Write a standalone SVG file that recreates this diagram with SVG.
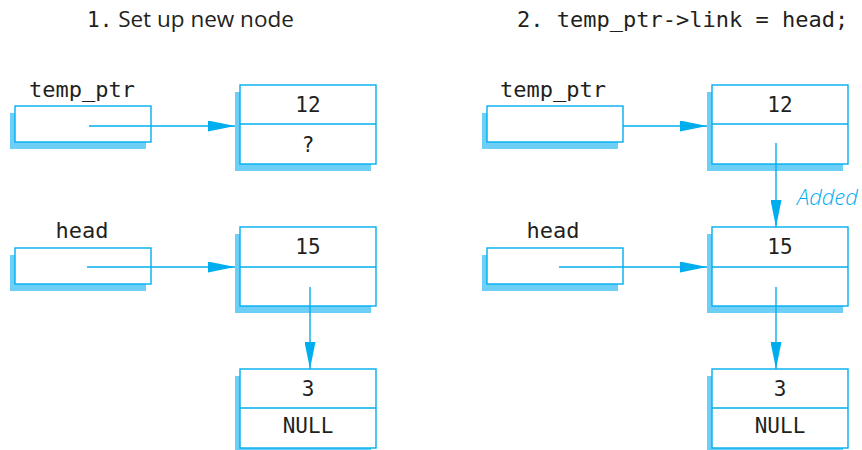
<svg xmlns="http://www.w3.org/2000/svg" width="862" height="450" viewBox="0 0 862 450">
<style>
.sh{fill:#6dcff6;stroke:none}
.bx{fill:#fff;stroke:#00aeef;stroke-width:1.4}
.dv{stroke:#00aeef;stroke-width:1.4}
.cn{stroke:#00aeef;stroke-width:1.4;fill:none;marker-end:url(#ah)}
.mono{font-family:"DejaVu Sans Mono","Liberation Mono",monospace;fill:#231f20}
.lbl{font-size:22px}
.val{font-size:21px;text-anchor:middle}
.sans{font-family:"Open Sans","Noto Sans",sans-serif;fill:#231f20}
.add{font-family:"Open Sans","Noto Sans",sans-serif;font-style:italic;font-weight:300;font-size:22px;fill:#00aeef}
</style>
<defs>
<marker id="ah" viewBox="0 0 27 11" refX="27" refY="5.5" markerWidth="27" markerHeight="11" markerUnits="userSpaceOnUse" orient="auto">
<path d="M0,0 L27,5.5 L0,11 Z" fill="#00aeef"/>
</marker>
</defs>
<g id="titles">
<text x="87" y="27" class="mono" font-size="21">1.<tspan class="sans" font-size="22.5"> Set up new node</tspan></text>
<text x="517" y="27" class="mono lbl">2. temp_ptr-&gt;link = head;</text>
</g>
<g id="L_temp_ptr">
<text x="82" y="97" class="mono lbl" text-anchor="middle">temp_ptr</text>
<rect class="sh" x="10" y="113" width="136" height="36"/>
<rect class="bx" x="15" y="106" width="136" height="36"/>
</g>
<g id="L_head">
<text x="82" y="238" class="mono lbl" text-anchor="middle">head</text>
<rect class="sh" x="10" y="255" width="136" height="36"/>
<rect class="bx" x="15" y="248" width="136" height="36"/>
</g>
<g id="L_node12">
<rect class="sh" x="235" y="92" width="136" height="79"/>
<rect class="bx" x="240" y="85" width="136" height="79"/>
<line class="dv" x1="240" y1="124" x2="376" y2="124"/>
<text x="308" y="112" class="mono val">12</text>
<text x="308" y="152" class="mono val">?</text>
</g>
<g id="L_node15">
<rect class="sh" x="235" y="234" width="136" height="79"/>
<rect class="bx" x="240" y="227" width="136" height="79"/>
<line class="dv" x1="240" y1="267" x2="376" y2="267"/>
<text x="308" y="254" class="mono val">15</text>
</g>
<g id="L_node3">
<rect class="sh" x="235" y="376" width="136" height="79"/>
<rect class="bx" x="240" y="369" width="136" height="79"/>
<line class="dv" x1="240" y1="408" x2="376" y2="408"/>
<text x="308" y="396" class="mono val">3</text>
<text x="308" y="433" class="mono val">NULL</text>
</g>
<g id="R_temp_ptr">
<text x="553" y="97" class="mono lbl" text-anchor="middle">temp_ptr</text>
<rect class="sh" x="482" y="113" width="136" height="36"/>
<rect class="bx" x="487" y="106" width="136" height="36"/>
</g>
<g id="R_head">
<text x="553" y="238" class="mono lbl" text-anchor="middle">head</text>
<rect class="sh" x="482" y="255" width="136" height="36"/>
<rect class="bx" x="487" y="248" width="136" height="36"/>
</g>
<g id="R_node12">
<rect class="sh" x="707" y="92" width="136" height="79"/>
<rect class="bx" x="712" y="85" width="136" height="79"/>
<line class="dv" x1="712" y1="124" x2="848" y2="124"/>
<text x="780" y="112" class="mono val">12</text>
</g>
<g id="R_node15">
<rect class="sh" x="707" y="234" width="136" height="79"/>
<rect class="bx" x="712" y="227" width="136" height="79"/>
<line class="dv" x1="712" y1="267" x2="848" y2="267"/>
<text x="780" y="254" class="mono val">15</text>
</g>
<g id="R_node3">
<rect class="sh" x="707" y="376" width="136" height="79"/>
<rect class="bx" x="712" y="369" width="136" height="79"/>
<line class="dv" x1="712" y1="408" x2="848" y2="408"/>
<text x="780" y="396" class="mono val">3</text>
<text x="780" y="433" class="mono val">NULL</text>
</g>
<g id="connectors">
<line class="cn" x1="89" y1="126" x2="235" y2="126"/>
<line class="cn" x1="87" y1="267" x2="235" y2="267"/>
<line class="cn" x1="310" y1="287" x2="310" y2="369"/>
<line class="cn" x1="623" y1="126" x2="707" y2="126"/>
<line class="cn" x1="559" y1="267" x2="707" y2="267"/>
<line class="cn" x1="776" y1="143" x2="776" y2="227"/>
<line class="cn" x1="776" y1="287" x2="776" y2="369"/>
<text x="797" y="205" class="add">Added</text>
</g>
</svg>
